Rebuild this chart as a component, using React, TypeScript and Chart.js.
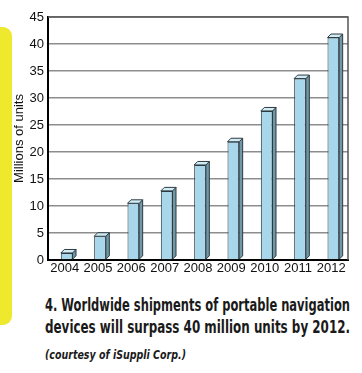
import React, { useEffect, useRef } from "react";
import { Chart, registerables } from "chart.js";

Chart.register(...registerables);

const years = ["2004", "2005", "2006", "2007", "2008", "2009", "2010", "2011", "2012"];
const shipments = [1.3, 4.4, 10.5, 12.8, 17.6, 21.9, 27.6, 33.6, 41.2];
const yTicks = [0, 5, 10, 15, 20, 25, 30, 35, 40, 45];
const yTitle = "Millions of units";
const captionLines = [
  "4. Worldwide shipments of portable navigation",
  "devices will surpass 40 million units by 2012.",
];
const creditLine = "(courtesy of iSuppli Corp.)";

const TICK_FONT = "'Liberation Sans', Arial, sans-serif";
const CAPTION_FONT = "'DejaVu Sans Condensed', 'Liberation Sans', sans-serif";

const DEPTH = 3.5;
const SHIFT = 2;

const bar3d = {
  id: "bar3d",
  beforeDatasetsDraw(chart: any) {
    const { ctx, chartArea } = chart;
    ctx.save();
    ctx.strokeStyle = "#555";
    ctx.lineWidth = 1.5;
    ctx.beginPath();
    ctx.moveTo(chartArea.left, chartArea.top);
    ctx.lineTo(chartArea.right, chartArea.top);
    ctx.lineTo(chartArea.right, chartArea.bottom);
    ctx.stroke();
    ctx.restore();
    ctx.save();
    ctx.translate(SHIFT, 0);
  },
  afterDatasetsDraw(chart: any) {
    const { ctx } = chart;
    const meta = chart.getDatasetMeta(0);
    ctx.lineWidth = 1;
    ctx.strokeStyle = "#2c3b41";
    ctx.lineJoin = "round";
    meta.data.forEach((el: any) => {
      const { x, y, base, width } = el.getProps(["x", "y", "base", "width"], true);
      const l = x - width / 2;
      const r = x + width / 2;
      ctx.beginPath();
      ctx.moveTo(r, y);
      ctx.lineTo(r + DEPTH, y - DEPTH);
      ctx.lineTo(r + DEPTH, base - DEPTH);
      ctx.lineTo(r, base);
      ctx.closePath();
      ctx.fillStyle = "#6f97a7";
      ctx.fill();
      ctx.stroke();
      ctx.beginPath();
      ctx.moveTo(l, y);
      ctx.lineTo(l + DEPTH, y - DEPTH);
      ctx.lineTo(r + DEPTH, y - DEPTH);
      ctx.lineTo(r, y);
      ctx.closePath();
      ctx.fillStyle = "#d2ecf6";
      ctx.fill();
      ctx.stroke();
    });
    ctx.restore();
  },
};

export default function App() {
  const canvasRef = useRef<HTMLCanvasElement | null>(null);
  const lineRefs = useRef<(HTMLDivElement | null)[]>([]);

  useEffect(() => {
    const targets = [305, 305, 141];
    lineRefs.current.forEach((el, i) => {
      if (!el) return;
      el.style.transform = "none";
      const w = el.getBoundingClientRect().width;
      if (w > 0) el.style.transform = `scaleX(${targets[i] / w})`;
    });

    const canvas = canvasRef.current;
    if (!canvas) return;
    const chart = new Chart(canvas, {
      type: "bar",
      data: {
        labels: years,
        datasets: [
          {
            data: shipments,
            backgroundColor: "#a8d6ea",
            borderColor: "#2c3b41",
            borderWidth: 1,
            categoryPercentage: 1,
            barPercentage: 0.35,
          },
        ],
      },
      options: {
        animation: false,
        responsive: false,
        maintainAspectRatio: false,
        devicePixelRatio: 1,
        layout: { padding: { top: 17, right: 14, left: 0, bottom: 0 } },
        plugins: { legend: { display: false }, tooltip: { enabled: false }, title: { display: false } },
        scales: {
          x: {
            grid: { display: false, drawTicks: false },
            border: { display: true, color: "#000", width: 2 },
            ticks: {
              color: "#111",
              font: { family: TICK_FONT, size: 13 },
              padding: 1,
              maxRotation: 0,
              autoSkip: false,
            },
            afterFit: (s: any) => {
              s.height = 25;
            },
          },
          y: {
            min: 0,
            max: 45,
            afterBuildTicks: (s: any) => {
              s.ticks = yTicks.map((v) => ({ value: v }));
            },
            grid: { color: "#8d8d8d", lineWidth: 1.5, drawTicks: false },
            border: { display: true, color: "#000", width: 2 },
            ticks: {
              color: "#111",
              font: { family: TICK_FONT, size: 13 },
              padding: 4,
            },
            title: {
              display: true,
              text: yTitle,
              color: "#111",
              font: { family: "'Liberation Sans', sans-serif", size: 13 },
              padding: { top: 12, bottom: 0 },
            },
            afterFit: (s: any) => {
              s.width = 48;
            },
          },
        },
      },
      plugins: [bar3d],
    });
    return () => chart.destroy();
  }, []);

  const lineStyle = (top: number, size: number, italic: boolean): React.CSSProperties => ({
    position: "absolute",
    left: 45,
    top,
    fontFamily: CAPTION_FONT,
    fontWeight: 700,
    fontStyle: italic ? "italic" : "normal",
    fontSize: size,
    lineHeight: 1,
    whiteSpace: "nowrap",
    color: "#1a1a1a",
    transformOrigin: "0 0",
    display: "inline-block",
  });

  return (
    <div
      style={{
        position: "fixed",
        left: 0,
        top: 0,
        width: 362,
        height: 373,
        background: "#fff",
        overflow: "hidden",
      }}
    >
      <div
        style={{
          position: "absolute",
          left: 0,
          top: 27,
          width: 12,
          height: 298,
          background: "#efe92e",
          borderRadius: "0 9px 9px 0",
        }}
      />
      <canvas
        ref={canvasRef}
        width={362}
        height={285}
        style={{ position: "absolute", left: 0, top: 0, width: 362, height: 285 }}
      />
      <div ref={(el) => { lineRefs.current[0] = el; }} style={lineStyle(295.5, 18, false)}>
        {captionLines[0]}
      </div>
      <div ref={(el) => { lineRefs.current[1] = el; }} style={lineStyle(318, 18, false)}>
        {captionLines[1]}
      </div>
      <div ref={(el) => { lineRefs.current[2] = el; }} style={lineStyle(348, 13, true)}>
        {creditLine}
      </div>
    </div>
  );
}
